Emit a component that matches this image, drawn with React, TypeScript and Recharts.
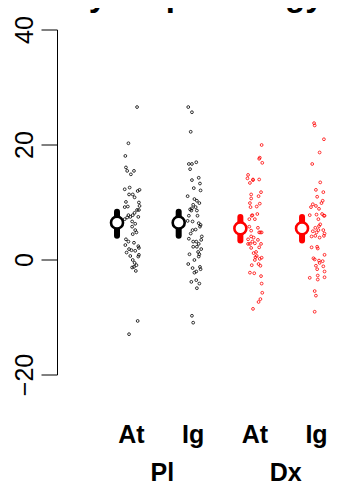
import React from 'react';
import { ComposedChart, Scatter, Line, XAxis, YAxis } from 'recharts';

// ---- data ----
const categories = [1, 2, 3, 4];
const conditionLabels = ['At', 'Ig', 'At', 'Ig'];
const groupLabels = ['Pl', 'Dx'];
const groupPositions = [1.5, 3.5];
const yTicks = [-20, 0, 20, 40];
const title = 'Psychopathology';

const plAtValues = [26.6, 20.3, 18.1, 16.1, 15.5, 15.5, 14.9, 12.3, 12.6, 11.4, 11.4, 12.0, 12.2, 10.9, 10.1, 10.0, 9.2, 9.3, 9.4, 8.7, 8.7, 8.2, 7.8, 7.5, 7.4, 7.8, 7.5, 7.1, 6.7, 6.3, 5.8, 5.2, 4.8, 4.5, 3.6, 3.2, 2.6, 3.0, 2.4, 2.1, 1.9, 1.7, 1.3, 1.6, 0.9, 0.6, 0.7, 0.0, -0.5, -0.9, -1.3, -1.2, -1.9, -10.6, -12.9];
const plAtJitter = [0.09, -0.05, -0.10, -0.09, -0.07, 0.04, -0.01, -0.11, -0.03, -0.04, 0.02, 0.10, 0.13, 0.05, -0.09, 0.12, -0.11, -0.06, 0.13, 0.09, 0.12, 0.05, 0.02, -0.02, -0.07, -0.05, 0.11, -0.11, 0.01, 0.06, 0.01, 0.06, 0.08, 0.02, -0.09, -0.05, -0.10, 0.04, 0.11, 0.12, -0.04, 0.00, -0.08, 0.06, 0.12, 0.11, -0.02, 0.02, 0.05, 0.08, 0.01, 0.04, 0.07, 0.10, -0.04];

const plIgValues = [26.6, 25.7, 22.3, 16.7, 16.7, 17.0, 15.8, 13.9, 14.3, 13.3, 12.5, 12.1, 11.1, 10.6, 10.3, 9.6, 9.9, 9.0, 8.8, 9.2, 8.6, 8.6, 7.7, 7.7, 6.8, 6.7, 6.4, 6.1, 5.8, 5.3, 5.2, 4.6, 4.1, 3.7, 3.2, 3.2, 3.5, 2.8, 2.3, 2.3, 1.9, 1.4, 1.0, 1.0, 0.6, 0.0, -0.7, -1.2, -1.4, -1.6, -2.2, -2.0, -3.8, -3.5, -4.1, -4.9, -9.7, -10.9];
const plIgJitter = [-0.08, -0.02, -0.04, -0.07, -0.02, 0.05, -0.05, -0.02, 0.09, 0.11, 0.01, 0.12, -0.09, 0.02, 0.06, 0.00, 0.10, -0.02, -0.05, 0.04, -0.03, 0.06, -0.07, 0.07, -0.09, -0.01, 0.09, 0.12, 0.11, 0.04, -0.01, -0.04, 0.14, -0.07, 0.00, 0.05, 0.13, 0.09, 0.00, 0.06, 0.13, 0.08, 0.10, -0.06, 0.09, 0.02, -0.08, 0.11, -0.01, 0.12, 0.02, 0.05, -0.03, 0.05, 0.10, 0.06, -0.02, 0.00];

const dxAtValues = [20.0, 17.8, 17.6, 16.9, 14.8, 14.2, 14.0, 14.0, 13.4, 13.9, 11.8, 11.4, 11.1, 10.7, 9.8, 9.9, 9.3, 9.2, 8.0, 7.8, 7.7, 7.1, 7.1, 5.8, 5.6, 4.8, 4.8, 4.8, 5.1, 4.1, 3.9, 3.6, 3.5, 3.2, 2.8, 2.9, 2.8, 2.8, 2.2, 2.1, 1.4, 1.2, 0.7, 0.5, 0.4, 0.0, 0.2, -0.7, -0.9, -1.0, -2.2, -2.3, -2.8, -4.1, -5.7, -6.8, -7.3, -8.5];
const dxAtJitter = [0.11, 0.08, 0.07, 0.12, -0.11, -0.12, -0.03, 0.07, -0.08, -0.03, 0.10, -0.06, 0.06, -0.06, 0.08, -0.08, 0.03, -0.07, 0.04, -0.04, -0.05, 0.00, -0.09, -0.09, 0.05, 0.07, 0.09, 0.11, -0.06, -0.06, -0.02, -0.11, 0.05, -0.04, -0.08, 0.00, -0.11, 0.10, 0.07, -0.06, 0.02, -0.02, 0.03, 0.01, 0.11, 0.00, 0.08, 0.06, -0.05, 0.09, -0.08, -0.01, 0.10, 0.11, 0.12, 0.09, 0.06, -0.03];

const dxIgValues = [23.8, 23.4, 21.0, 18.7, 16.7, 13.5, 12.2, 11.8, 11.0, 10.3, 9.9, 9.7, 9.2, 8.9, 9.4, 7.8, 7.9, 7.7, 8.0, 7.7, 7.1, 6.2, 5.9, 5.6, 5.2, 5.2, 5.0, 4.8, 4.6, 4.2, 4.1, 3.9, 4.2, 2.3, 2.0, 2.2, 0.3, 0.9, -0.1, 0.1, -0.2, -0.5, -1.1, -1.0, -1.6, -2.0, -3.1, -3.4, -2.7, -3.0, -5.4, -6.2, -9.0];
const dxIgJitter = [-0.04, -0.03, 0.12, 0.05, -0.07, 0.06, -0.01, 0.11, 0.01, 0.10, 0.08, -0.06, -0.09, 0.04, -0.01, -0.11, 0.00, 0.12, 0.09, 0.13, 0.03, 0.06, 0.04, -0.02, 0.11, 0.03, -0.06, 0.00, 0.13, -0.02, -0.08, 0.05, 0.12, 0.01, 0.02, -0.08, -0.05, 0.13, 0.04, -0.03, 0.10, 0.05, 0.11, -0.01, 0.01, 0.13, -0.11, 0.02, 0.02, 0.13, -0.03, -0.01, -0.03];

const groupMeans = [6.5, 6.5, 5.5, 5.5];
const groupCiLow = [4.2, 4.2, 3.4, 3.4];
const groupCiHigh = [8.4, 8.4, 7.5, 7.5];
const meanOffset = -0.235;

const BLACK = '#000000';
const RED = '#FF0000';
const seriesColors = [BLACK, BLACK, RED, RED];
const FONT = '"Liberation Sans", Arial, Helvetica, sans-serif';

const buildPoints = (cat: number, values: number[], jitter: number[]) =>
  values.map((v, i) => ({ x: cat + jitter[i], y: v }));

const pointSets = [
  buildPoints(categories[0], plAtValues, plAtJitter),
  buildPoints(categories[1], plIgValues, plIgJitter),
  buildPoints(categories[2], dxAtValues, dxAtJitter),
  buildPoints(categories[3], dxIgValues, dxIgJitter),
];

const whiskers = categories.map((c, i) => [
  { x: c + meanOffset, y: groupCiLow[i] },
  { x: c + meanOffset, y: groupCiHigh[i] },
]);
const meanPoints = categories.map((c, i) => [{ x: c + meanOffset, y: groupMeans[i] }]);
const groupLabelData = groupPositions.map((p) => ({ x: p, y: 0 }));

const makeDot = (color: string) => (props: any) => {
  const { cx, cy } = props;
  if (cx == null || cy == null) return <g />;
  return <circle cx={cx} cy={cy} r={1.4} fill="none" stroke={color} strokeWidth={0.8} />;
};

const makeMean = (color: string) => (props: any) => {
  const { cx, cy } = props;
  if (cx == null || cy == null) return <g />;
  return <circle cx={cx} cy={cy} r={6} fill="#ffffff" stroke={color} strokeWidth={2.6} />;
};

const YTick = (props: any) => {
  const { x, y, payload } = props;
  const v = payload.value;
  const label = v < 0 ? '\u2212' + Math.abs(v) : String(v);
  const tx = x - 8.5;
  return (
    <text x={tx} y={y} transform={`rotate(-90, ${tx}, ${y})`} textAnchor="middle"
      fontSize={25} fill="#000" fontFamily={FONT}>{label}</text>
  );
};

const XTick = (props: any) => {
  const { x, y, payload } = props;
  const idx = categories.indexOf(Math.round(payload.value));
  return (
    <text x={x} y={y + 68} textAnchor="middle" fontSize={25} fontWeight="bold"
      fill="#000" fontFamily={FONT}>{conditionLabels[idx]}</text>
  );
};

const GroupTick = (props: any) => {
  const { x, y, payload } = props;
  const idx = groupPositions.indexOf(payload.value);
  return (
    <text x={x} y={y + 56} textAnchor="middle" fontSize={25} fontWeight="bold"
      fill="#000" fontFamily={FONT}>{groupLabels[idx]}</text>
  );
};

export default function App() {
  return (
    <div style={{ position: 'relative', width: 336, height: 477, fontFamily: FONT }}>
      <svg style={{ position: 'absolute', left: -8, top: -8, overflow: 'visible' }} width={346} height={20}>
        <text x={186} y={6} textAnchor="middle" fontSize={33} fontWeight="bold" fill="#000" fontFamily={FONT}>{title}</text>
      </svg>
      <ComposedChart width={336} height={477} margin={{ top: 22, right: 2.8, bottom: 8, left: 0 }}>
        <XAxis xAxisId="cat" dataKey="x" type="number" domain={[-0.2, 4.4]} ticks={categories}
          interval={0} axisLine={false} tickLine={false} tickSize={0} tickMargin={0} height={50}
          tick={<XTick />} allowDataOverflow />
        <XAxis xAxisId="grp" dataKey="x" type="number" domain={[-0.2, 4.4]} ticks={groupPositions}
          interval={0} axisLine={false} tickLine={false} tickSize={0} tickMargin={0} height={52}
          tick={<GroupTick />} allowDataOverflow />
        <YAxis dataKey="y" type="number" domain={[-20, 40]} ticks={yTicks} interval={0} width={49.5}
          tickSize={16} tickMargin={0} stroke="#000" axisLine={{ stroke: '#000', strokeWidth: 1 }}
          tickLine={{ stroke: '#000', strokeWidth: 1 }} tick={<YTick />} allowDataOverflow />
        {whiskers.map((w, i) => (
          <Line key={'w' + i} xAxisId="cat" data={w} dataKey="y" stroke={seriesColors[i]} strokeWidth={6}
            strokeLinecap="round" dot={false} activeDot={false} isAnimationActive={false} />
        ))}
        {pointSets.map((pts, i) => (
          <Scatter key={'p' + i} xAxisId="cat" data={pts} dataKey="y" shape={makeDot(seriesColors[i])}
            isAnimationActive={false} />
        ))}
        {meanPoints.map((m, i) => (
          <Scatter key={'m' + i} xAxisId="cat" data={m} dataKey="y" shape={makeMean(seriesColors[i])}
            isAnimationActive={false} />
        ))}
        <Scatter xAxisId="grp" data={groupLabelData} dataKey="y" shape={() => <g />} isAnimationActive={false} />
      </ComposedChart>
    </div>
  );
}
